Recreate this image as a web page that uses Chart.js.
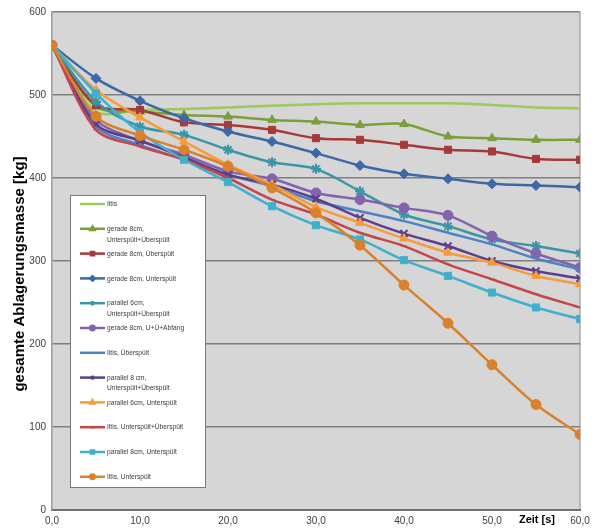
<!DOCTYPE html>
<html><head><meta charset="utf-8">
<script src="https://cdn.jsdelivr.net/npm/chart.js@4.4.1/dist/chart.umd.min.js"></script>
<style>html,body{margin:0;padding:0;background:#fff}#wrap{position:relative;width:596px;height:530px}</style>
</head><body><div id="wrap"><canvas id="c" width="596" height="530"></canvas></div>
<script>
// Zeitpunkte der Messung [s]
const zeit = [0, 5, 10, 15, 20, 25, 30, 35, 40, 45, 50, 55, 60];
const xTicks = [0, 10, 20, 30, 40, 50, 60];
const yTicks = [0, 100, 200, 300, 400, 500, 600];

// gesamte Ablagerungsmasse [kg] je Variante
const iltis          = [560, 480, 482, 483, 485, 487, 489, 490, 490, 490, 488, 485, 484];
const gerade8UUe     = [560, 486, 480, 476, 474, 470, 468, 464, 465, 450, 448, 446, 446];
const gerade8Ue      = [560, 488, 482, 467, 464, 458, 448, 446, 440, 434, 432, 423, 422];
const gerade8U       = [560, 520, 493, 472, 456, 444, 430, 415, 405, 399, 393, 391, 389];
const parallel6UUe   = [560, 492, 462, 452, 434, 419, 411, 384, 356, 342, 326, 318, 309];
const gerade8Abfang  = [560, 470, 445, 428, 408, 399, 382, 374, 364, 355, 330, 309, 292];
const iltisUe        = [560, 462, 440, 422, 404, 390, 372, 360, 348, 334, 320, 303, 290];
const parallel8UUe   = [560, 465, 445, 425, 404, 392, 375, 352, 333, 318, 300, 288, 279];
const parallel6U     = [560, 506, 473, 444, 416, 392, 365, 346, 327, 310, 298, 282, 272];
const iltisUUe       = [560, 458, 438, 422, 400, 374, 356, 334, 318, 296, 278, 260, 244];
const parallel8U     = [560, 502, 455, 422, 395, 366, 343, 326, 301, 282, 262, 244, 230];
const iltisU         = [560, 474, 451, 434, 414, 388, 358, 319, 271, 225, 175, 127, 91];

const serienNamen = [
  'Iltis',
  'gerade 8cm,\nUnterspült+Überspült',
  'gerade 8cm, Überspült',
  'gerade 8cm, Unterspült',
  'parallel 6cm,\nUnterspült+Überspült',
  'gerade 8cm, U+Ü+Abfang',
  'Iltis, Überspült',
  'parallel 8 cm,\nUnterspült+Überspült',
  'parallel 6cm, Unterspült',
  'Iltis, Unterspült+Überspült',
  'parallel 8cm, Unterspült',
  'Iltis, Unterspült'
];
const serienWerte = [iltis, gerade8UUe, gerade8Ue, gerade8U, parallel6UUe, gerade8Abfang,
  iltisUe, parallel8UUe, parallel6U, iltisUUe, parallel8U, iltisU];
const farben = ['#9cc95c', '#7a9f3a', '#a8393a', '#3c68a8', '#3a96a6', '#8463ad',
  '#4d82c6', '#5b3f8c', '#f79b3c', '#c4454a', '#3fb0cc', '#d9822b'];
const marker = [null, 'triangle', 'rect', 'rectRot', 'star', 'circle',
  null, 'crossRot', 'triangle', 'line', 'rect', 'circle'];

const datasets = serienWerte.map((werte, i) => ({
  label: serienNamen[i],
  data: werte.map((v, k) => ({ x: zeit[k], y: v })),
  borderColor: farben[i],
  backgroundColor: farben[i],
  borderWidth: 2.5,
  pointStyle: marker[i] || 'circle',
  pointRadius: marker[i] ? (marker[i] === 'line' ? 3 : 5) : 0,
  pointBorderWidth: marker[i] === 'star' || marker[i] === 'crossRot' ? 2 : 1,
  tension: 0.3,
  order: serienWerte.length - i
}));

const schrift = 'Arial, "Liberation Sans", sans-serif';

// grauer Hintergrund der Zeichenfläche, rechter Rand und Achsentitel
const flaeche = {
  id: 'flaeche',
  beforeDraw(chart) {
    const { ctx, chartArea: a } = chart;
    ctx.save();
    ctx.fillStyle = '#d6d6d6';
    ctx.fillRect(a.left, a.top, a.right - a.left, a.bottom - a.top);
    ctx.strokeStyle = '#a8a8a8';
    ctx.lineWidth = 1.5;
    ctx.beginPath();
    ctx.moveTo(a.right, a.top);
    ctx.lineTo(a.right, a.bottom);
    ctx.stroke();
    ctx.restore();
  },
  afterDraw(chart) {
    const { ctx } = chart;
    ctx.save();
    ctx.fillStyle = '#000';
    ctx.font = 'bold 11px ' + schrift;
    ctx.textAlign = 'center';
    ctx.textBaseline = 'middle';
    ctx.fillText('Zeit [s]', 537, 520);
    ctx.translate(20, 274);
    ctx.rotate(-Math.PI / 2);
    ctx.font = 'bold 15px ' + schrift;
    ctx.fillText('gesamte Ablagerungsmasse [kg]', 0, 0);
    ctx.restore();
  }
};

// Legende im Diagramm (schmale Schrift)
const legendeKasten = {
  id: 'legendeKasten',
  afterDraw(chart, args, o) {
    const ctx = chart.ctx;
    ctx.save();
    ctx.fillStyle = '#ffffff';
    ctx.fillRect(o.left, o.top, o.width, o.height);
    ctx.strokeStyle = '#7a7a7a';
    ctx.lineWidth = 1;
    ctx.strokeRect(o.left + 0.5, o.top + 0.5, o.width, o.height);
    chart.data.datasets.forEach((ds, i) => {
      const y = o.first + i * o.step;
      ctx.strokeStyle = ds.borderColor;
      ctx.fillStyle = ds.borderColor;
      ctx.lineWidth = 2.5;
      ctx.beginPath();
      ctx.moveTo(o.left + 10, y);
      ctx.lineTo(o.left + 35, y);
      ctx.stroke();
      if (ds.pointRadius > 0) {
        Chart.helpers.drawPoint(ctx, { pointStyle: ds.pointStyle, radius: 2.2, borderWidth: 1, rotation: 0 }, o.left + 22.5, y);
      }
      ctx.fillStyle = '#3a3a3a';
      ctx.font = '8px ' + schrift;
      ctx.textBaseline = 'middle';
      ctx.textAlign = 'left';
      ds.label.split('\n').forEach((t, j) => {
        ctx.save();
        ctx.translate(o.left + 37, y + j * 10.5);
        ctx.scale(0.83, 1);
        ctx.fillText(t, 0, 0);
        ctx.restore();
      });
    });
    ctx.restore();
  }
};

new Chart(document.getElementById('c'), {
  type: 'line',
  data: { datasets },
  options: {
    responsive: false,
    devicePixelRatio: 1,
    animation: false,
    layout: { padding: { left: 0, top: 12, right: 16, bottom: 0 } },
    plugins: {
      legend: { display: false },
      tooltip: { enabled: false },
      legendeKasten: { left: 70, top: 195, width: 135, height: 292, first: 204, step: 24.8 }
    },
    scales: {
      x: {
        type: 'linear',
        min: 0, max: 60,
        afterBuildTicks: s => { s.ticks = xTicks.map(v => ({ value: v })); },
        afterFit: s => { s.height = 20; },
        grid: { display: false, drawTicks: false },
        border: { display: true, color: '#6e6e6e', width: 2 },
        ticks: {
          padding: 5,
          color: '#404040',
          font: { size: 10, family: schrift },
          callback: v => v.toFixed(1).replace('.', ',')
        }
      },
      y: {
        min: 0, max: 600,
        afterBuildTicks: s => { s.ticks = yTicks.map(v => ({ value: v })); },
        afterFit: s => { s.width = 52; },
        grid: { color: '#7f7f7f', lineWidth: 1.5, drawTicks: false },
        border: { display: true, color: '#9a9a9a', width: 1.5 },
        ticks: {
          padding: 6,
          color: '#404040',
          font: { size: 10, family: schrift }
        }
      }
    }
  },
  plugins: [flaeche, legendeKasten]
});
</script></body></html>
